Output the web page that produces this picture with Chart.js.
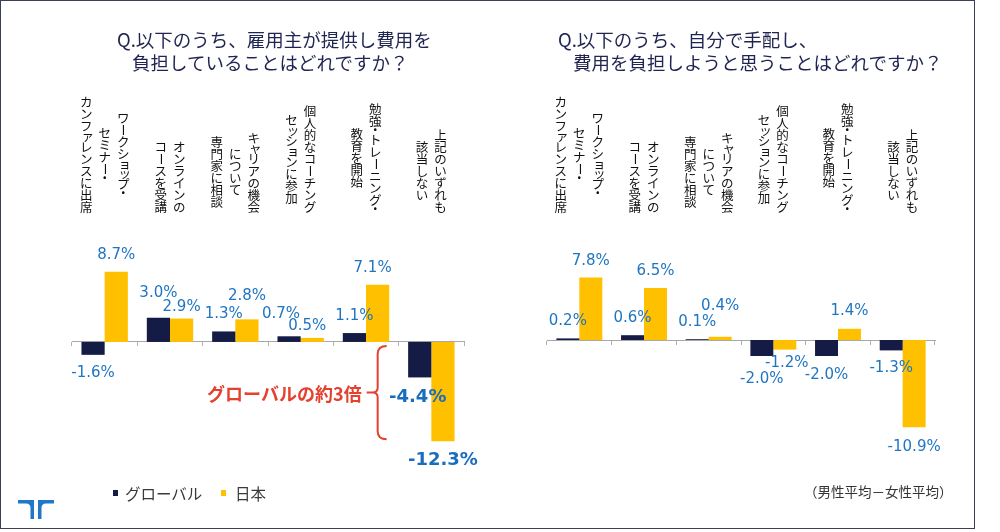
<!DOCTYPE html>
<html><head><meta charset="utf-8">
<script src="https://cdn.jsdelivr.net/npm/chart.js@4.4.0/dist/chart.umd.min.js"></script>
<style>
html,body{margin:0;padding:0;background:#fff;}
#wrap{position:relative;width:1000px;height:532px;overflow:hidden;background:#fff;font-family:"Noto Sans CJK JP",sans-serif;}
#frame{position:absolute;left:0;top:0;width:973px;height:527px;border:1.5px solid #3b3f5e;}
canvas{position:absolute;top:0;}
.t{position:absolute;font-size:18.5px;line-height:23px;color:#1f2450;white-space:nowrap;}
.lg{position:absolute;font-size:15.5px;line-height:20px;color:#3a3a3a;white-space:nowrap;}
.sq{position:absolute;width:5px;height:6px;}
#note{position:absolute;font-size:13.5px;line-height:18px;color:#333;white-space:nowrap;}
#logo{position:absolute;left:18px;top:500px;}
</style></head>
<body><div id="wrap">
<div id="frame"></div>
<canvas id="c1" width="490" height="532" style="left:0;width:490px;height:532px"></canvas>
<canvas id="c2" width="490" height="532" style="left:490px;width:490px;height:532px"></canvas>
<div class="t" id="tl1" style="left:117px;top:28px"></div>
<div class="t" id="tl2" style="left:132px;top:51px"></div>
<div class="t" id="tr1" style="left:558px;top:28px"></div>
<div class="t" id="tr2" style="left:573px;top:51px"></div>
<div class="sq" style="left:113px;top:490px;background:#141b45"></div>
<div class="lg" id="lg1" style="left:125px;top:483px"></div>
<div class="sq" style="left:221px;top:490px;background:#ffc000"></div>
<div class="lg" id="lg2" style="left:235px;top:483px"></div>
<div id="note" style="left:804px;top:482px"></div>
<svg id="logo" width="36" height="19" viewBox="0 0 36 19"><path d="M0,0 H16 V19 H12.5 V8 Q12.5,3.5 8,3.5 H0 Z" fill="#1f78c8"/><path d="M36,0 H20 V19 H23.5 V8 Q23.5,3.5 28,3.5 H36 Z" fill="#1f78c8"/></svg>
</div>
<script>
// ---- data ----
const seriesNames = ["グローバル", "日本"];
const categories = [
  ["ワークショップ・", "セミナー・", "カンファレンスに出席"],
  ["オンラインの", "コースを受講"],
  ["キャリアの機会", "について", "専門家に相談"],
  ["個人的なコーチング", "セッションに参加"],
  ["勉強・トレーニング・", "教育を開始"],
  ["上記のいずれも", "該当しない"]
];
const employerGlobal = [-1.6, 3.0, 1.3, 0.7, 1.1, -4.4];
const employerJapan  = [8.7, 2.9, 2.8, 0.5, 7.1, -12.3];
const selfGlobal     = [0.2, 0.6, 0.1, -2.0, -2.0, -1.3];
const selfJapan      = [7.8, 6.5, 0.4, -1.2, 1.4, -10.9];
const titleLeft  = ["Q.以下のうち、雇用主が提供し費用を", "負担していることはどれですか？"];
const titleRight = ["Q.以下のうち、自分で手配し、", "費用を負担しようと思うことはどれですか？"];
const annotationText = "グローバルの約3倍";
const noteText = "（男性平均－女性平均）";

// ---- styles ----
const NAVY = "#141b45", YELLOW = "#ffc000", LBLUE = "#1f75c2", RED = "#e5412f";
const labelStyleLeft = {
  off: [[18, 25, 17, 22, 17, 20], [17, 11, 23, 12, 17, 19]],
  dx:  [[0, 0, 0, -8, 0, -2], [0, 0, 0, -5, -5, 0]],
  boldIndex: 5
};
const labelStyleRight = {
  off: [[17, 17, 17, 23, 19, 18], [16, 17, 31, 14, 18, 20]],
  dx:  [[0, 0, 0, 0, 0, 0], [0, 0, 0, 2, 0, 0]],
  boldIndex: -1
};

document.getElementById("tl1").textContent = titleLeft[0];
document.getElementById("tl2").textContent = titleLeft[1];
document.getElementById("tr1").textContent = titleRight[0];
document.getElementById("tr2").textContent = titleRight[1];
document.getElementById("lg1").textContent = seriesNames[0];
document.getElementById("lg2").textContent = seriesNames[1];
document.getElementById("note").textContent = noteText;

const SMALL = "ァィゥェォッャュョヮぁぃぅぇぉっゃゅょゎ";
const ROTATE = "ー－～—";
function adv(ch) { if (SMALL.includes(ch)) return 9; if (ch === "・") return 7; return 12; }
function colLen(s) { let t = 0; for (const c of s) t += adv(c); return t; }

const verticalLabels = {
  id: "verticalLabels",
  afterDraw(chart) {
    const ctx = chart.ctx, xs = chart.scales.x;
    ctx.save();
    ctx.fillStyle = "#111";
    ctx.font = "12.5px 'Noto Sans CJK JP'";
    ctx.textAlign = "center";
    ctx.textBaseline = "middle";
    const bottom = 213, gap = 18.5;
    categories.forEach((cols, i) => {
      const cx = xs.getPixelForValue(i);
      const lmax = Math.max(...cols.map(colLen));
      const center = bottom - lmax / 2;
      const n = cols.length;
      cols.forEach((s, j) => {
        const x = cx + ((n - 1) / 2 - j) * gap;
        let y = center - colLen(s) / 2;
        for (const ch of s) {
          const a = adv(ch);
          ctx.save();
          ctx.translate(x, y + a / 2);
          if (ROTATE.includes(ch)) ctx.rotate(Math.PI / 2);
          else if (SMALL.includes(ch)) ctx.translate(1.5, -0.5);
          ctx.fillText(ch, 0, 0);
          ctx.restore();
          y += a;
        }
      });
    });
    ctx.restore();
  }
};

const valueLabels = {
  id: "valueLabels",
  afterDatasetsDraw(chart, args, opts) {
    const st = opts.style, ctx = chart.ctx;
    ctx.save();
    ctx.textAlign = "center";
    ctx.textBaseline = "middle";
    chart.data.datasets.forEach((ds, d) => {
      const meta = chart.getDatasetMeta(d);
      meta.data.forEach((el, i) => {
        const v = ds.data[i];
        const p = el.getProps(["x", "y", "base"], true);
        const bold = i === st.boldIndex;
        ctx.font = bold ? "bold 18px 'DejaVu Sans'" : "15px 'DejaVu Sans'";
        ctx.fillStyle = bold ? "#1a6dbd" : LBLUE;
        const off = st.off[d][i];
        const y = v >= 0 ? p.y - off : p.y + off;
        ctx.fillText(v.toFixed(1) + "%", p.x + st.dx[d][i], y);
      });
    });
    ctx.restore();
  }
};

const annotation = {
  id: "braceAnnotation",
  afterDatasetsDraw(chart) {
    const ctx = chart.ctx, xs = chart.scales.x, ys = chart.scales.y;
    const n = employerJapan.length - 1;
    const bx = (xs.getPixelForValue(n - 1) + xs.getPixelForValue(n)) / 2 - 21;
    const top = ys.getPixelForValue(0) + 4;
    const bot = ys.getPixelForValue(employerJapan[n]) - 2;
    const mid = (top + bot) / 2;
    ctx.save();
    ctx.strokeStyle = RED; ctx.lineWidth = 2;
    ctx.beginPath();
    ctx.moveTo(bx + 9, top);
    ctx.quadraticCurveTo(bx, top, bx, top + 8);
    ctx.lineTo(bx, mid - 5);
    ctx.quadraticCurveTo(bx, mid, bx - 5, mid);
    ctx.lineTo(bx - 11, mid);
    ctx.moveTo(bx - 5, mid);
    ctx.quadraticCurveTo(bx, mid, bx, mid + 5);
    ctx.lineTo(bx, bot - 8);
    ctx.quadraticCurveTo(bx, bot, bx + 9, bot);
    ctx.stroke();
    ctx.fillStyle = RED;
    ctx.font = "bold 18px 'Noto Sans CJK JP'";
    ctx.textAlign = "right"; ctx.textBaseline = "middle";
    ctx.fillText(annotationText, bx - 16, mid + 2);
    ctx.restore();
  }
};

function makeChart(id, g, j, pad, yMin, yMax, style, extra) {
  return new Chart(document.getElementById(id), {
    type: "bar",
    data: {
      labels: categories,
      datasets: [
        { label: seriesNames[0], data: g, backgroundColor: NAVY, categoryPercentage: 0.71, barPercentage: 1 },
        { label: seriesNames[1], data: j, backgroundColor: YELLOW, categoryPercentage: 0.71, barPercentage: 1 }
      ]
    },
    options: {
      responsive: false, animation: false,
      layout: { padding: pad },
      plugins: { legend: { display: false }, tooltip: { enabled: false }, title: { display: false }, valueLabels: { style } },
      scales: {
        y: { display: false, min: yMin, max: yMax },
        x: {
          position: { y: 0 },
          grid: { offset: true, drawOnChartArea: false, drawTicks: true, tickLength: 4, color: "#b0b0b0" },
          border: { display: true, color: "#a8a8a8", width: 1 },
          ticks: { display: false }
        }
      }
    },
    plugins: [verticalLabels, valueLabels].concat(extra)
  });
}

makeChart("c1", employerGlobal, employerJapan, { left: 72, right: 26, top: 229, bottom: 61 }, -16, 14, labelStyleLeft, [annotation]);
makeChart("c2", selfGlobal, selfJapan, { left: 57, right: 45, top: 228, bottom: 64 }, -16, 14, labelStyleRight, []);
</script>
</body></html>
